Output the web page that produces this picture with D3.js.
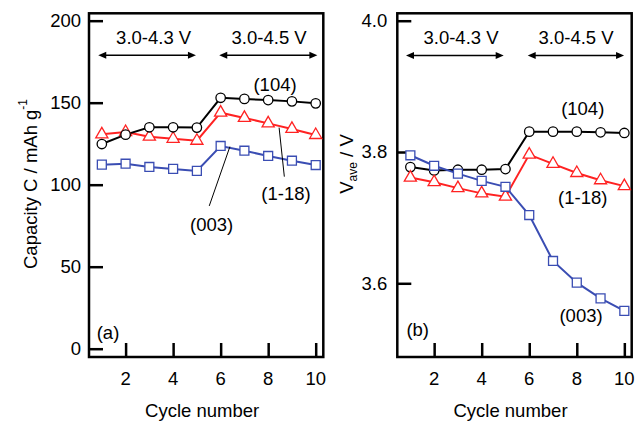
<!DOCTYPE html>
<html><head><meta charset="utf-8">
<script src="https://cdn.jsdelivr.net/npm/d3@7"></script>
<style>
body{margin:0;background:#fff;}
svg{display:block;font-family:"Liberation Sans",Arial,sans-serif;}
</style></head>
<body>
<svg id="c" width="636" height="422"></svg>
<script>
// ---- data ----
const cycles = [1,2,3,4,5,6,7,8,9,10];
const capacity104 = [124.8,130.5,135.0,135.0,134.8,153.0,152.3,151.6,150.8,149.6];
const capacity118 = [130.7,132.1,129.3,128.0,126.8,143.9,140.7,137.4,134.0,130.3];
const capacity003 = [112.2,112.8,110.8,109.6,108.4,123.6,120.7,117.5,114.6,112.0];
const vave104 = [3.777,3.772,3.773,3.773,3.774,3.831,3.831,3.831,3.830,3.829];
const vave118 = [3.761,3.754,3.745,3.737,3.732,3.796,3.782,3.768,3.757,3.748];
const vave003 = [3.795,3.779,3.767,3.756,3.747,3.704,3.634,3.601,3.577,3.558];
const xTicks = [2,4,6,8,10];
const capTicks = [0,50,100,150,200];
const vTicks = [3.6,3.8,4.0];
const rangeLabels = ["3.0-4.3 V","3.0-4.5 V"];
const seriesNames = ["(104)","(1-18)","(003)"];

const svg = d3.select("#c");
const FS = 18.5;
const colors = {"104":"#000000","118":"#ff2222","003":"#3a4db3"};

function panel(opts){
  const g = svg.append("g");
  const x = d3.scaleLinear().domain(opts.xDomain).range([opts.left, opts.right]);
  const y = d3.scaleLinear().domain(opts.yDomain).range([opts.bottom, opts.top]);
  // frame
  g.append("rect").attr("x",opts.left).attr("y",opts.top)
    .attr("width",opts.right-opts.left).attr("height",opts.bottom-opts.top)
    .attr("fill","none").attr("stroke","#000").attr("stroke-width",2.5);
  // x axis ticks (inward)
  const xa = d3.axisTop(x).tickValues(xTicks).tickSize(14).tickFormat("");
  g.append("g").attr("transform",`translate(0,${opts.bottom})`).call(xa)
    .call(s=>{s.select(".domain").remove(); s.selectAll("line").attr("stroke-width",2.5);});
  g.selectAll(".xl").data(xTicks).join("text")
    .attr("x",d=>x(d)).attr("y",opts.bottom+28).attr("text-anchor","middle")
    .attr("font-size",FS).text(d=>d);
  // y axis ticks (inward)
  const ya = d3.axisRight(y).tickValues(opts.yTicks).tickSize(14).tickFormat("");
  g.append("g").attr("transform",`translate(${opts.left},0)`).call(ya)
    .call(s=>{s.select(".domain").remove(); s.selectAll("line").attr("stroke-width",2.5);});
  g.selectAll(".yl").data(opts.yTicks).join("text")
    .attr("x",opts.left-opts.yLabelGap).attr("y",d=>y(d)).attr("dy","0.35em")
    .attr("text-anchor","end").attr("font-size",FS).text(opts.yFmt);
  // x title
  g.append("text").attr("x",(opts.left+opts.right)/2-4).attr("y",417)
    .attr("text-anchor","middle").attr("font-size",FS).text("Cycle number");

  // series
  const line = d3.line().x((d,i)=>x(cycles[i])).y(d=>y(d));
  const sym = {
    "104": d3.symbol().type(d3.symbolCircle).size(70),
    "118": d3.symbol().type(d3.symbolTriangle).size(64),
    "003": d3.symbol().type(d3.symbolSquare).size(80)
  };
  opts.series.forEach(s=>{
    g.append("path").datum(s.values).attr("d",line).attr("fill","none")
      .attr("stroke",colors[s.key]).attr("stroke-width",2);
  });
  opts.series.forEach(s=>{
    g.selectAll(null).data(s.values).join("path")
      .attr("transform",(d,i)=>`translate(${x(cycles[i])},${y(d)})`)
      .attr("d",sym[s.key]()).attr("fill","#fff")
      .attr("stroke",colors[s.key]).attr("stroke-width",1.3);
  });

  // range arrows
  const ay = y(opts.arrowY);
  opts.arrows.forEach((a,k)=>{
    const x1 = x(a[0]), x2 = x(a[1]);
    g.append("line").attr("x1",x1+6).attr("x2",x2-6).attr("y1",ay).attr("y2",ay)
      .attr("stroke","#000").attr("stroke-width",1.6);
    g.append("path").attr("d",`M${x1},${ay}L${x1+8},${ay-3.5}L${x1+8},${ay+3.5}Z`).attr("fill","#000");
    g.append("path").attr("d",`M${x2},${ay}L${x2-8},${ay-3.5}L${x2-8},${ay+3.5}Z`).attr("fill","#000");
    g.append("text").attr("x",x(opts.rangeLabelX[k])).attr("y",y(opts.rangeLabelY))
      .attr("dy","0.35em").attr("text-anchor","middle").attr("font-size",FS).text(rangeLabels[k]);
  });
  // labels
  opts.labels.forEach(l=>{
    g.append("text").attr("x",x(l.x)).attr("y",y(l.y)).attr("dy","0.35em")
      .attr("text-anchor","middle").attr("font-size",FS).text(l.t);
  });
  (opts.leaders||[]).forEach(l=>{
    g.append("line").attr("x1",x(l[0])).attr("y1",y(l[1])).attr("x2",x(l[2])).attr("y2",y(l[3]))
      .attr("stroke","#000").attr("stroke-width",1);
  });
  return {x,y,g};
}

// Panel (a)
panel({
  left:89, right:323.3, top:13.3, bottom:357,
  xDomain:[0.46,10.32], yDomain:[-5.06,204.5], yTicks:capTicks, yLabelGap:8,
  yFmt:d=>d,
  series:[{key:"003",values:capacity003},{key:"118",values:capacity118},{key:"104",values:capacity104}],
  arrowY:178.9, arrows:[[0.85,4.96],[5.94,10.07]],
  rangeLabelX:[3.18,8.04], rangeLabelY:189.6,
  labels:[{x:8.29,y:160.8,t:seriesNames[0]},{x:8.75,y:94.8,t:seriesNames[1]},
          {x:5.62,y:75.5,t:seriesNames[2]},{x:1.26,y:9.8,t:"(a)"}],
  leaders:[[8.46,134.8,8.68,104.9],[6.39,123.2,5.52,87.05]]
});

// Panel (b)
panel({
  left:397.3, right:631.7, top:13.3, bottom:357,
  xDomain:[0.45,10.31], yDomain:[3.4877,4.0113], yTicks:vTicks, yLabelGap:10,
  yFmt:d=>d.toFixed(1),
  series:[{key:"104",values:vave104},{key:"118",values:vave118},{key:"003",values:vave003}],
  arrowY:3.947, arrows:[[0.816,4.926],[5.936,9.99]],
  rangeLabelX:[3.13,7.97], rangeLabelY:3.974,
  labels:[{x:8.25,y:3.8655,t:seriesNames[0]},{x:8.25,y:3.730,t:seriesNames[1]},
          {x:8.18,y:3.5507,t:seriesNames[2]},{x:1.31,y:3.530,t:"(b)"}]
});

// y titles
const ta = svg.append("text").attr("transform","translate(36.5,184) rotate(-90)")
  .attr("text-anchor","middle").attr("font-size",FS);
ta.append("tspan").text("Capacity C / mAh g");
ta.append("tspan").attr("dy",-10).attr("font-size",12).text("-1");

const tb = svg.append("text").attr("transform","translate(353,164) rotate(-90)")
  .attr("text-anchor","middle").attr("font-size",FS);
tb.append("tspan").text("V");
tb.append("tspan").attr("dy",4).attr("font-size",12).text("ave");
tb.append("tspan").attr("dy",-4).text(" / V");
</script>
</body></html>
